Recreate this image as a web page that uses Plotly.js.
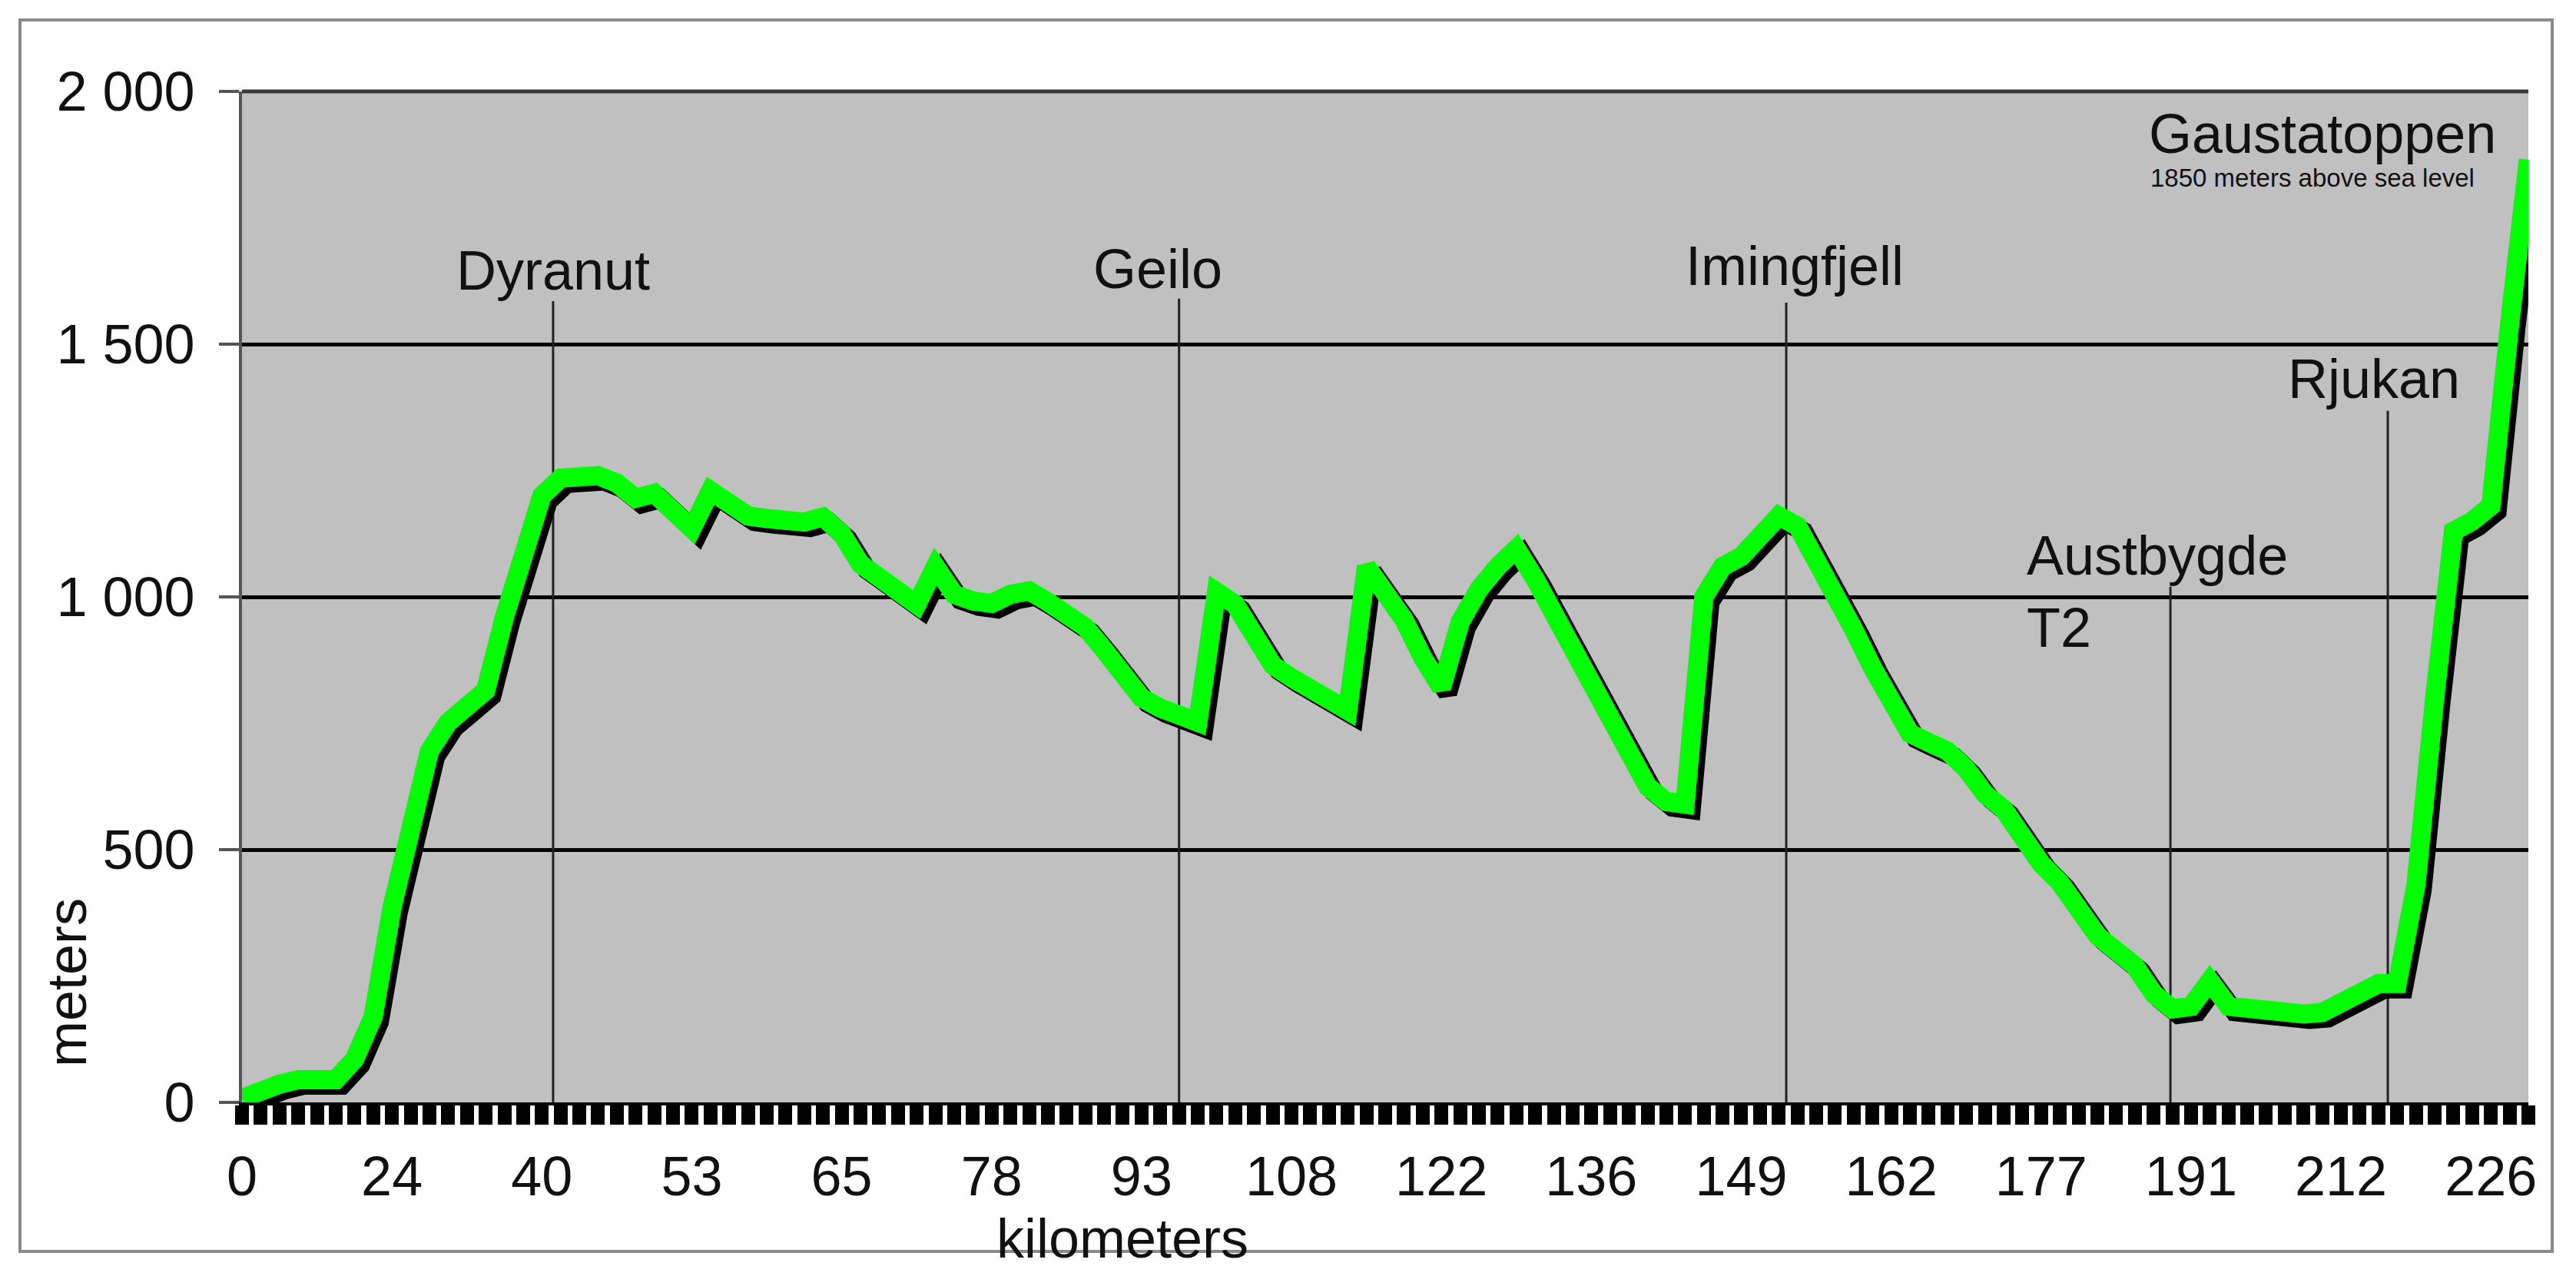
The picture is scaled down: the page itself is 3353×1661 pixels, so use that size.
<!DOCTYPE html>
<html><head><meta charset="utf-8">
<script src="https://cdn.plot.ly/plotly-3.0.1.min.js"></script>
<style>html,body{margin:0;padding:0;background:#fff}#chart{width:3353px;height:1661px}</style>
</head><body><div id="chart"></div>
<script>
// ---- data ----
const kmLabels = [0,24,40,53,65,78,93,108,122,136,149,162,177,191,212,226];
const labelEvery = 8; // one km label every 8 measuring points
const elevation = [
  8,24,36,45,44,45,85,170,385,555,
  695,752,780,815,960,1090,1200,1235,1240,1240,
  1225,1195,1205,1170,1135,1210,1180,1160,1155,1150,
  1148,1158,1125,1065,1035,1010,985,1060,1005,992,
  987,1005,1012,990,968,940,895,840,800,780,
  765,752,1010,985,925,865,840,820,800,775,
  1060,1010,955,880,820,950,1015,1060,1095,1035,
  965,905,830,760,690,625,595,590,1000,1060,
  1080,1120,1160,1140,1075,1010,935,860,785,730,
  712,695,660,610,580,525,472,435,385,330,
  300,270,215,185,190,240,190,185,182,180,
  175,178,195,220,235,235,430,800,1130,1150,
  1180,1540,1865
];
const landmarkNames = ['Dyranut','Geilo','Imingfjell','Austbygde','Rjukan'];
const landmarkPos   = [16.6, 50.0, 82.4, 102.9, 114.5];
const landmarkTop   = [1585, 1590, 1582, 1020, 1368];
const summitName = 'Gaustatoppen';
const summitNote = '1850 meters above sea level';

// ---- frame geometry ----
const W = 3353, H = 1661;
const PL = 315, PR = 3291, PT = 119, PB = 1435;
const px2x = p => (p - PL) / (PR - PL);
const px2y = p => (PB - p) / (PB - PT);
const idx = elevation.map((_, i) => i);
const nMax = elevation.length - 1;
const catPx = (PR - PL) / nMax;
const mPx = (PB - PT) / 2000;
const shadowDx = 8 / catPx, shadowDy = 7 / mPx;

const FONT = 'Liberation Sans, Arial, sans-serif';
const FS = 72;

const traces = [
  { // drop shadow of the profile
    x: idx.map(i => i + shadowDx), y: elevation.map(v => v - shadowDy),
    type: 'scatter', mode: 'lines',
    line: {color: '#000', width: 25}, hoverinfo: 'skip', showlegend: false
  },
  { // green profile
    x: idx, y: elevation, type: 'scatter', mode: 'lines',
    line: {color: '#00FF00', width: 25}, showlegend: false
  }
];

const shapes = [];
landmarkPos.forEach((p, k) => {
  shapes.push({type: 'line', xref: 'x', yref: 'y', x0: p, x1: p, y0: 0, y1: landmarkTop[k],
    line: {color: '#222', width: 3}, layer: 'between'});
});
shapes.push({type: 'line', xref: 'paper', yref: 'paper', x0: 0, x1: 1, y0: 1, y1: 1,
  line: {color: '#3a3a3a', width: 5}, layer: 'above'});
shapes.push({type: 'rect', xref: 'paper', yref: 'paper',
  x0: px2x(26), x1: px2x(3322), y0: px2y(1629), y1: px2y(26),
  line: {color: '#8a8a8a', width: 4}, fillcolor: 'rgba(0,0,0,0)', layer: 'below'});

const ann = (text, xpx, ypx, xanchor, size, extra) => Object.assign({
  text, xref: 'paper', yref: 'paper', x: px2x(xpx), y: px2y(ypx),
  xanchor, yanchor: 'middle', showarrow: false,
  font: {family: FONT, size, color: '#111'}
}, extra || {});

const annotations = [
  ann(landmarkNames[0], 720, 352, 'center', FS),
  ann(landmarkNames[1], 1507, 350, 'center', FS),
  ann(landmarkNames[2], 2336, 346, 'center', FS),
  ann(landmarkNames[3] + '<br>T2', 2636, 770, 'left', FS, {align: 'left'}),
  ann(landmarkNames[4], 3090, 493, 'center', FS),
  ann(summitName, 2795, 174, 'left', FS),
  ann(summitNote, 2797, 231, 'left', 33),
  ann('kilometers', 1461, 1612, 'center', FS),
  ann('meters', 87, 1279, 'center', FS, {textangle: -90})
];

const tickIdx = kmLabels.map((_, k) => k * labelEvery);

const layout = {
  width: W, height: H,
  paper_bgcolor: '#ffffff', plot_bgcolor: '#C0C0C0',
  margin: {l: PL, r: W - PR, t: PT, b: H - PB, pad: 0},
  separators: '. ',
  font: {family: FONT, size: FS, color: '#111'},
  xaxis: {
    range: [0, nMax],
    tickmode: 'array', tickvals: tickIdx, ticktext: kmLabels.map(String),
    ticks: 'outside', ticklen: 25, tickwidth: 18, tickcolor: '#000',
    minor: {dtick: 1, tick0: 0, ticks: 'outside', ticklen: 25, tickwidth: 18, tickcolor: '#000', showgrid: false},
    showline: true, linecolor: '#000', linewidth: 4,
    showgrid: false, zeroline: false,
    tickfont: {family: FONT, size: FS, color: '#111'},
    ticklabelstandoff: 6
  },
  yaxis: {
    range: [0, 2000],
    tickmode: 'linear', tick0: 0, dtick: 500, separatethousands: true, tickformat: ',d',
    ticks: 'outside', ticklen: 26, tickwidth: 4, tickcolor: '#555',
    showline: true, linecolor: '#555', linewidth: 4,
    showgrid: true, gridcolor: '#000', gridwidth: 5, zeroline: false,
    tickfont: {family: FONT, size: FS, color: '#111'},
    ticklabelstandoff: 17
  },
  shapes, annotations, showlegend: false
};

Plotly.newPlot('chart', traces, layout, {displayModeBar: false, staticPlot: true});
</script></body></html>
